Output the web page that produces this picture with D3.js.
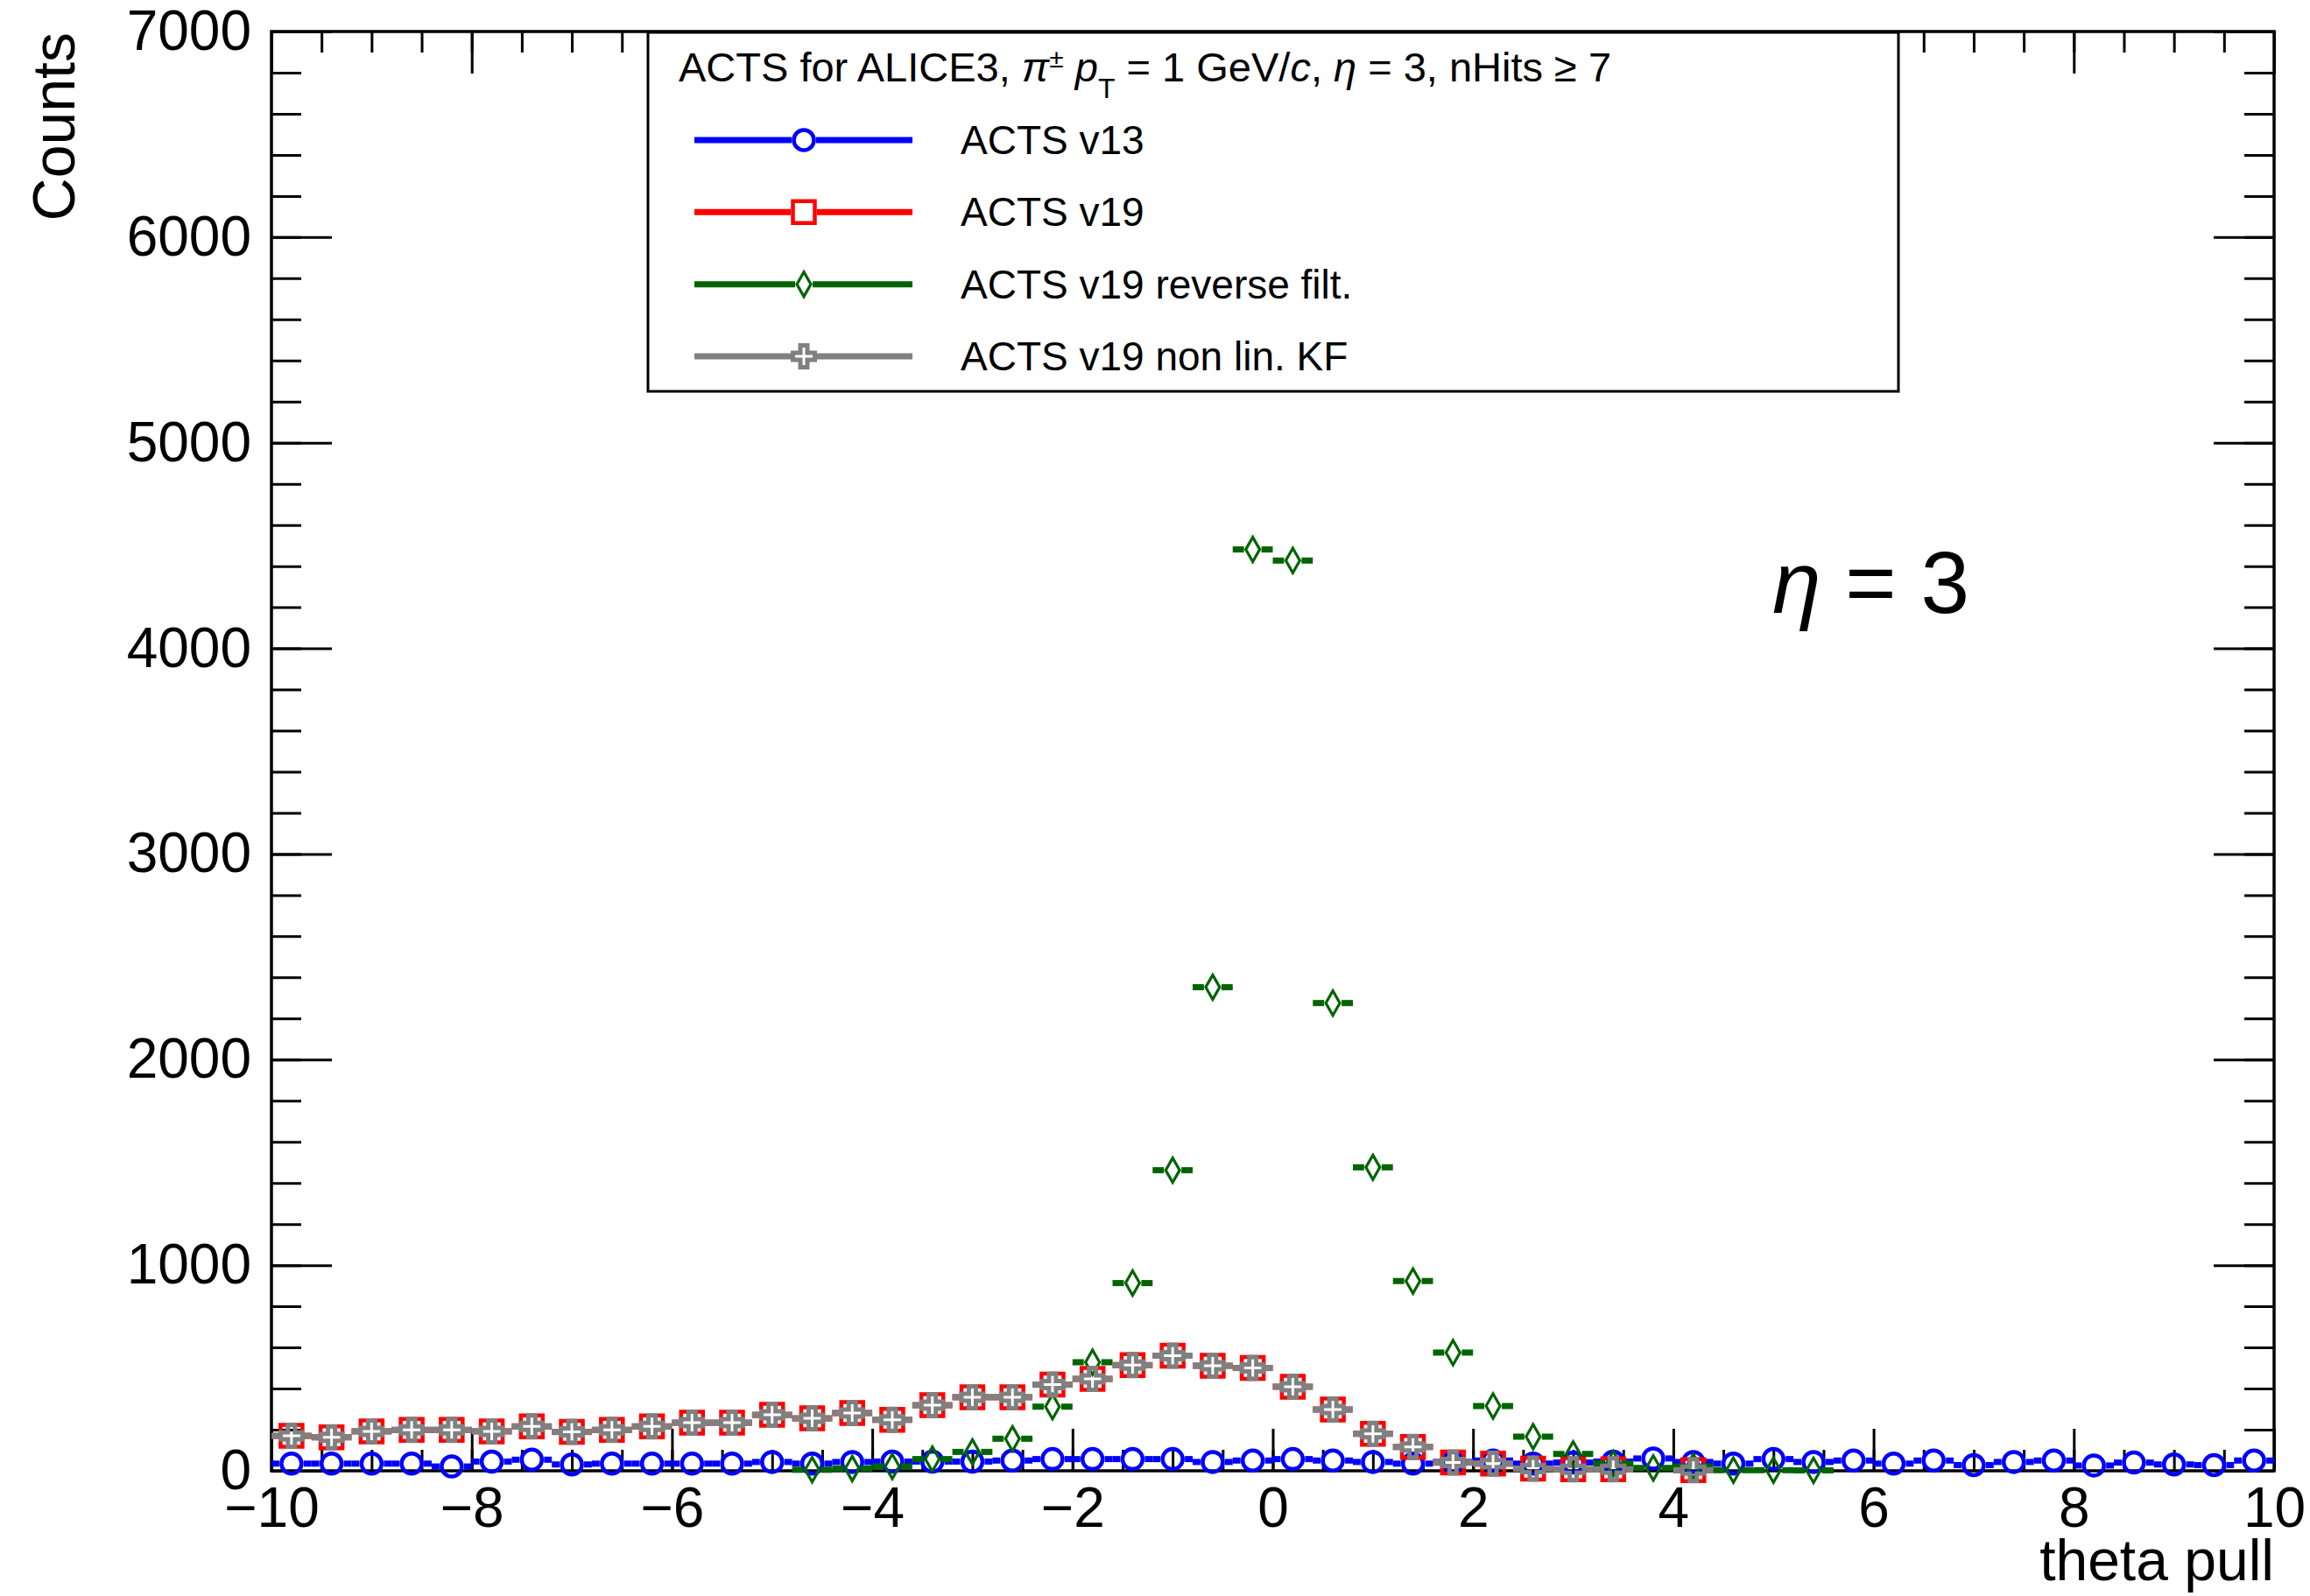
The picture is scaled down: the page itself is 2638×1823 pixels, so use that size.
<!DOCTYPE html>
<html>
<head>
<meta charset="utf-8">
<script src="https://cdn.jsdelivr.net/npm/d3@7"></script>
<style>
body { margin: 0; background: #fff; }
text { font-family: "Liberation Sans", Arial, Helvetica, sans-serif; fill: #000; }
</style>
</head>
<body>
<div id="chart"></div>
<script>
//////////////////////////////////////////////////////////////
//////////////////////// Data ////////////////////////////////
//////////////////////////////////////////////////////////////

// 50 bins of width 0.4 between -10 and 10
const binCenters = [-9.8, -9.4, -9.0, -8.6, -8.2, -7.8, -7.4, -7.0, -6.6, -6.2,
                    -5.8, -5.4, -5.0, -4.6, -4.2, -3.8, -3.4, -3.0, -2.6, -2.2,
                    -1.8, -1.4, -1.0, -0.6, -0.2, 0.2, 0.6, 1.0, 1.4, 1.8,
                    2.2, 2.6, 3.0, 3.4, 3.8, 4.2, 4.6, 5.0, 5.4, 5.8,
                    6.2, 6.6, 7.0, 7.4, 7.8, 8.2, 8.6, 9.0, 9.4, 9.8]
const binWidth = 0.4

// null = empty bin (not drawn)
const countsV13 = [35, 35, 35, 35, 21, 45, 54, 31, 35, 35,
                   35, 35, 43, 35, 43, 45, 45, 45, 50, 57,
                   57, 57, 57, 43, 50, 57, 50, 43, 35, 43,
                   50, 35, 40, 45, 60, 43, 35, 57, 43, 50,
                   35, 50, 28, 43, 50, 26, 40, 31, 28, 50]

const countsV19 = [170, 163, 192, 199, 199, 192, 216, 189, 199, 216,
                   234, 234, 272, 255, 281, 248, 319, 358, 358, 419,
                   447, 514, 560, 511, 500, 409, 298, 180, 116, 40,
                   35, 11, 7, 7, null, 3, null, null, null, null,
                   null, null, null, null, null, null, null, null, null, null]

const countsReverse = [null, null, null, null, null, null, null, null, null, null,
                       null, null, null, 5, 11, 21, 57, 92, 156, 312,
                       528, 913, 1462, 2352, 4481, 4427, 2275, 1476, 923, 575,
                       315, 166, 82, 35, 14, 21, 3, 3, 2, null,
                       null, null, null, null, null, null, null, null, null, null]

const countsNonLin = [170, 163, 192, 199, 199, 192, 216, 189, 199, 216,
                      234, 234, 272, 255, 281, 248, 319, 358, 358, 419,
                      447, 514, 560, 511, 500, 409, 298, 180, 116, 40,
                      35, 11, 7, 7, null, 3, null, null, null, null,
                      null, null, null, null, null, null, null, null, null, null]

const seriesNames = ["ACTS v13", "ACTS v19", "ACTS v19 reverse filt.", "ACTS v19 non lin. KF"]
const xTickValues = [-10, -8, -6, -4, -2, 0, 2, 4, 6, 8, 10]
const yTickValues = [0, 1000, 2000, 3000, 4000, 5000, 6000, 7000]

//////////////////////////////////////////////////////////////
//////////////////////// Styles //////////////////////////////
//////////////////////////////////////////////////////////////

const diamondPath = "M0,-14L8,0L0,14L-8,0Z"
const crossPath = (a, b) => "M" + [-b, -a] + "L" + [b, -a] + "L" + [b, -b] + "L" + [a, -b] +
    "L" + [a, b] + "L" + [b, b] + "L" + [b, a] + "L" + [-b, a] + "L" + [-b, b] +
    "L" + [-a, b] + "L" + [-a, -b] + "L" + [-b, -b] + "Z"

const series = [
    {name: seriesNames[0], values: countsV13, color: "#0000ff",
     path: d3.symbol(d3.symbolCircle, Math.PI * 11.5 * 11.5)(), sw: 4.5, hw: 14, hh: 14},
    {name: seriesNames[1], values: countsV19, color: "#ff0000",
     path: d3.symbol(d3.symbolSquare, 25 * 25)(), sw: 4.5, hw: 15, hh: 15},
    {name: seriesNames[2], values: countsReverse, color: "#006400",
     path: diamondPath, sw: 3.2, hw: 10, hh: 15.5},
    {name: seriesNames[3], values: countsNonLin, color: "#808080",
     path: crossPath(12.5, 4), sw: 5, hw: 15, hh: 15}
]

const barWidth = 7

//////////////////////////////////////////////////////////////
//////////////////////// Create SVG //////////////////////////
//////////////////////////////////////////////////////////////

const W = 2638
const H = 1823
const frame = {left: 310, right: 2597, top: 36, bottom: 1680}

const svg = d3.select("#chart")
    .append("svg")
    .attr("width", W)
    .attr("height", H)

const x = d3.scaleLinear().domain([-10, 10]).range([frame.left, frame.right])
const y = d3.scaleLinear().domain([0, 7000]).range([frame.bottom, frame.top])

//////////////////////////////////////////////////////////////
//////////////////////// Axes ////////////////////////////////
//////////////////////////////////////////////////////////////

const fmt = d => d < 0 ? "\u2212" + Math.abs(d) : String(d)

function styleAxis(g) {
    g.select(".domain").remove()
    g.selectAll(".tick line").attr("stroke", "#000").attr("stroke-width", 3)
    g.selectAll(".tick text").style("font-size", "64px").attr("fill", "#000")
}

// bottom
svg.append("g")
    .attr("transform", "translate(0," + frame.bottom + ")")
    .call(d3.axisBottom(x).tickValues(x.ticks(40)).tickSize(-24).tickFormat(""))
    .call(styleAxis)
svg.append("g")
    .attr("transform", "translate(0," + frame.bottom + ")")
    .call(d3.axisBottom(x).tickValues(xTickValues).tickSize(-48).tickPadding(19).tickFormat(fmt))
    .call(styleAxis)

// top
svg.append("g")
    .attr("transform", "translate(0," + frame.top + ")")
    .call(d3.axisTop(x).tickValues(x.ticks(40)).tickSize(-24).tickFormat(""))
    .call(styleAxis)
svg.append("g")
    .attr("transform", "translate(0," + frame.top + ")")
    .call(d3.axisTop(x).tickValues(xTickValues).tickSize(-48).tickFormat(""))
    .call(styleAxis)

// left
svg.append("g")
    .attr("transform", "translate(" + frame.left + ",0)")
    .call(d3.axisLeft(y).tickValues(y.ticks(35)).tickSize(-34).tickFormat(""))
    .call(styleAxis)
svg.append("g")
    .attr("transform", "translate(" + frame.left + ",0)")
    .call(d3.axisLeft(y).tickValues(yTickValues).tickSize(-69).tickPadding(23).tickFormat(d3.format("d")))
    .call(styleAxis)

// right
svg.append("g")
    .attr("transform", "translate(" + frame.right + ",0)")
    .call(d3.axisRight(y).tickValues(y.ticks(35)).tickSize(-34).tickFormat(""))
    .call(styleAxis)
svg.append("g")
    .attr("transform", "translate(" + frame.right + ",0)")
    .call(d3.axisRight(y).tickValues(yTickValues).tickSize(-69).tickFormat(""))
    .call(styleAxis)

// frame
svg.append("rect")
    .attr("x", frame.left)
    .attr("y", frame.top)
    .attr("width", frame.right - frame.left)
    .attr("height", frame.bottom - frame.top)
    .attr("fill", "none")
    .attr("stroke", "#000")
    .attr("stroke-width", 3.5)

// axis titles
svg.append("text")
    .attr("x", frame.right)
    .attr("y", 1805)
    .attr("text-anchor", "end")
    .style("font-size", "66px")
    .text("theta pull")

svg.append("text")
    .attr("transform", "translate(85," + (frame.top + 1) + ") rotate(-90)")
    .attr("text-anchor", "end")
    .style("font-size", "68px")
    .text("Counts")

//////////////////////////////////////////////////////////////
//////////////////////// Data points /////////////////////////
//////////////////////////////////////////////////////////////

series.forEach(s => {
    const pts = binCenters.map((c, i) => ({c: c, v: s.values[i]})).filter(d => d.v !== null)
    const g = svg.append("g").attr("class", "series")

    // horizontal (bin width) error bars, with a gap for the marker
    g.selectAll(".hbar-l")
        .data(pts)
        .enter().append("line")
        .attr("x1", d => x(d.c - binWidth / 2))
        .attr("x2", d => x(d.c) - s.hw)
        .attr("y1", d => y(d.v))
        .attr("y2", d => y(d.v))
        .attr("stroke", s.color)
        .attr("stroke-width", barWidth)

    g.selectAll(".hbar-r")
        .data(pts)
        .enter().append("line")
        .attr("x1", d => x(d.c) + s.hw)
        .attr("x2", d => x(d.c + binWidth / 2))
        .attr("y1", d => y(d.v))
        .attr("y2", d => y(d.v))
        .attr("stroke", s.color)
        .attr("stroke-width", barWidth)

    // vertical sqrt(N) error bars, only where they stick out of the marker
    const big = pts.filter(d => y(d.v) - y(d.v + Math.sqrt(d.v)) > s.hh)
    g.selectAll(".vbar-up")
        .data(big)
        .enter().append("line")
        .attr("x1", d => x(d.c))
        .attr("x2", d => x(d.c))
        .attr("y1", d => y(d.v) - s.hh)
        .attr("y2", d => y(d.v + Math.sqrt(d.v)))
        .attr("stroke", s.color)
        .attr("stroke-width", barWidth)
    g.selectAll(".vbar-down")
        .data(big)
        .enter().append("line")
        .attr("x1", d => x(d.c))
        .attr("x2", d => x(d.c))
        .attr("y1", d => y(d.v) + s.hh)
        .attr("y2", d => y(d.v - Math.sqrt(d.v)))
        .attr("stroke", s.color)
        .attr("stroke-width", barWidth)

    // open markers
    g.selectAll(".marker")
        .data(pts)
        .enter().append("path")
        .attr("d", s.path)
        .attr("transform", d => "translate(" + x(d.c) + "," + y(d.v) + ")")
        .attr("fill", "none")
        .attr("stroke", s.color)
        .attr("stroke-width", s.sw)
})

//////////////////////////////////////////////////////////////
//////////////////////// Legend //////////////////////////////
//////////////////////////////////////////////////////////////

const legend = svg.append("g").attr("class", "legend")

legend.append("rect")
    .attr("x", 740)
    .attr("y", 37)
    .attr("width", 2168 - 740)
    .attr("height", 447 - 37)
    .attr("fill", "#fff")
    .attr("stroke", "#000")
    .attr("stroke-width", 3)

const header = legend.append("text")
    .attr("x", 775)
    .attr("y", 93)
    .style("font-size", "47px")
header.append("tspan").text("ACTS for ALICE3, ")
header.append("tspan").style("font-style", "italic").text("\u03c0")
header.append("tspan").attr("dy", -16).style("font-size", "30px").text("\u00b1")
header.append("tspan").attr("dy", 16).text(" ")
header.append("tspan").style("font-style", "italic").text("p")
header.append("tspan").attr("dy", 19).style("font-size", "32px").text("T")
header.append("tspan").attr("dy", -19).text(" = 1 GeV/")
header.append("tspan").style("font-style", "italic").text("c")
header.append("tspan").text(", ")
header.append("tspan").style("font-style", "italic").text("\u03b7")
header.append("tspan").text(" = 3, nHits \u2265 7")

const entryY = d3.scalePoint().domain(seriesNames).range([160, 407])

const entries = legend.selectAll(".entry")
    .data(series)
    .enter().append("g")
    .attr("class", "entry")
    .attr("transform", d => "translate(0," + entryY(d.name) + ")")

entries.append("line")
    .attr("x1", 793)
    .attr("x2", d => 918 - d.hw)
    .attr("stroke", d => d.color)
    .attr("stroke-width", barWidth)
entries.append("line")
    .attr("x1", d => 918 + d.hw)
    .attr("x2", 1042)
    .attr("stroke", d => d.color)
    .attr("stroke-width", barWidth)
entries.append("path")
    .attr("d", d => d.path)
    .attr("transform", "translate(918,0)")
    .attr("fill", "none")
    .attr("stroke", d => d.color)
    .attr("stroke-width", d => d.sw)
entries.append("text")
    .attr("x", 1097)
    .attr("y", 16)
    .style("font-size", "46px")
    .text(d => d.name)

//////////////////////////////////////////////////////////////
//////////////////////// Eta label ///////////////////////////
//////////////////////////////////////////////////////////////

const etaLabel = svg.append("text")
    .attr("x", 2024)
    .attr("y", 700)
    .style("font-size", "100px")
etaLabel.append("tspan").style("font-style", "italic").text("\u03b7")
etaLabel.append("tspan").text(" = 3")
</script>
</body>
</html>
